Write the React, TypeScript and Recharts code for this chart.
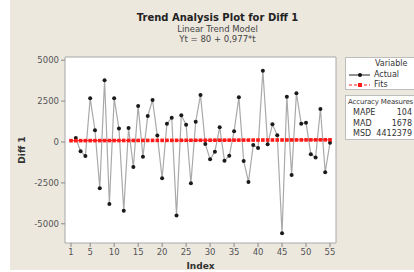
import React from 'react'
import {
  ComposedChart, Line, XAxis, YAxis, CartesianGrid, ReferenceArea, Legend
} from 'recharts'

// index 1 has no value (first difference)
const indexes = Array.from({ length: 55 }, (_, i) => i + 1)

const actual: Array<number | null> = [
  null, 240, -570, -850, 2670, 720, -2830, 3770, -3790, 2670,
  820, -4200, 850, -1530, 2200, -900, 1590, 2570, 390, -2220,
  1120, 1490, -4500, 1630, 1060, -2520, 1240, 2880, -120, -1060,
  -590, 900, -1140, -840, 650, 2730, -1160, -2440, -180, -370,
  4360, -140, 1080, 410, -5580, 2770, -2020, 2980, 1120, 1180,
  -750, -940, 2020, -1850, -40
]

const fits = [
  81, 82, 83, 84, 85, 86, 87, 88, 89, 90,
  91, 92, 93, 94, 95, 96, 97, 98, 99, 100,
  101, 101, 102, 103, 104, 105, 106, 107, 108, 109,
  110, 111, 112, 113, 114, 115, 116, 117, 118, 119,
  120, 121, 122, 123, 124, 125, 126, 127, 128, 129,
  130, 131, 132, 133, 134
]

const xTicks = [1, 5, 10, 15, 20, 25, 30, 35, 40, 45, 50, 55]
const yTicks = [-5000, -2500, 0, 2500, 5000]

const measures = [
  { name: 'MAPE', value: '104' },
  { name: 'MAD', value: '1678' },
  { name: 'MSD', value: '4412379' },
]

const data = indexes.map((idx, i) => ({ idx, actual: actual[i], fits: fits[i] }))

const FONT = '"DejaVu Sans", Verdana, sans-serif'
const X_DOMAIN: [number, number] = [-0.25, 56.25]
const Y_DOMAIN: [number, number] = [-6174, 5196]

function FitDot(props: any) {
  const { cx, cy } = props
  if (cx == null || cy == null) return null
  return <rect x={cx - 1.8} y={cy - 1.8} width={3.6} height={3.6} fill="#ff1a1a" />
}

function LegendBoxes() {
  const box: React.CSSProperties = {
    background: '#fff', border: '1px solid #bdbdbd', borderRight: 'none',
    fontFamily: FONT, fontSize: 8, color: '#333', position: 'relative'
  }
  return (
    <div style={{ width: 70 }}>
      <div style={{ ...box, height: 31 }}>
        <div style={{ position: 'absolute', left: 29, top: 1 }}>Variable</div>
        <svg width={24} height={30} style={{ position: 'absolute', left: 2, top: 0 }}>
          <line x1={1} x2={22} y1={17} y2={17} stroke="#222" strokeWidth={1} />
          <circle cx={12} cy={17} r={2} fill="#111" />
          <line x1={1} x2={22} y1={27} y2={27} stroke="#ff1a1a" strokeWidth={1} strokeDasharray="3 2" />
          <rect x={10} y={25} width={4} height={4} fill="#ff1a1a" />
        </svg>
        <div style={{ position: 'absolute', left: 28, top: 12 }}>Actual</div>
        <div style={{ position: 'absolute', left: 28, top: 22 }}>Fits</div>
      </div>
      <div style={{ ...box, height: 43, marginTop: 5 }}>
        <div style={{ position: 'absolute', left: 2, top: 2, whiteSpace: 'nowrap', fontSize: 7, letterSpacing: -0.15 }}>Accuracy Measures</div>
        {measures.map((m, i) => (
          <div key={m.name} style={{ position: 'absolute', left: 7, top: 12 + i * 10.5, width: 59 }}>
            <span>{m.name}</span>
            <span style={{ position: 'absolute', right: 0 }}>{m.value}</span>
          </div>
        ))}
      </div>
    </div>
  )
}

export default function App() {
  return (
    <div style={{ position: 'absolute', left: 0, top: 0, width: 414, height: 272, background: '#fff', overflow: 'hidden' }}>
      <div style={{ position: 'absolute', left: 10, top: 0, right: 0, bottom: 2, background: '#ece8de' }} />
      <div style={{ position: 'absolute', left: 0, top: 11, width: 435, textAlign: 'center', fontFamily: FONT, color: '#222' }}>
        <div style={{ fontSize: 10, fontWeight: 'bold', lineHeight: '13px' }}>Trend Analysis Plot for Diff 1</div>
        <div style={{ fontSize: 8.5, lineHeight: '10px', color: '#444' }}>Linear Trend Model</div>
        <div style={{ fontSize: 8.5, lineHeight: '10px', color: '#444' }}>Yt = 80 + 0,977*t</div>
      </div>
      <div style={{ position: 'absolute', left: 0, top: 0 }}>
        <ComposedChart width={414} height={272} data={data}
          margin={{ top: 57, right: 78, left: 0, bottom: 0 }}>
          <CartesianGrid fill="#fff" horizontal={false} vertical={false} />
          <ReferenceArea x1={X_DOMAIN[0]} x2={X_DOMAIN[1]} y1={Y_DOMAIN[0]} y2={Y_DOMAIN[1]}
            fill="none" stroke="#a8a8a8" strokeWidth={1} ifOverflow="visible" />
          <XAxis dataKey="idx" type="number" domain={X_DOMAIN} ticks={xTicks} allowDataOverflow
            height={29} axisLine={false} tickLine={{ stroke: '#888' }} tickSize={4} tickMargin={2}
            tick={{ fontSize: 8.5, fill: '#555', fontFamily: FONT }}
            label={{ value: 'Index', position: 'insideBottom', offset: 3, fontSize: 9, fontWeight: 'bold', fill: '#333', fontFamily: FONT }} />
          <YAxis type="number" domain={Y_DOMAIN} ticks={yTicks} allowDataOverflow
            width={65} axisLine={false} tickLine={{ stroke: '#888' }} tickSize={4} tickMargin={2}
            tick={{ fontSize: 8.5, fill: '#555', fontFamily: FONT }}
            label={{
              content: (p: any) => {
                const vb = p.viewBox || {}
                const cy = (vb.y ?? 57) + (vb.height ?? 186) / 2
                return (
                  <text x={25} y={cy} transform={`rotate(-90 25 ${cy})`} textAnchor="middle"
                    fontSize={9} fontWeight="bold" fill="#333" fontFamily={FONT}>Diff 1</text>
                )
              }
            }} />
          <Legend layout="vertical" align="center" verticalAlign="middle"
            wrapperStyle={{ left: 345, top: 57, width: 70 }} content={() => <LegendBoxes />} />
          <Line name="Actual" dataKey="actual" type="linear" stroke="#a9a9a9" strokeWidth={1.2}
            dot={{ r: 2, fill: '#1a1a1a', stroke: 'none' }} activeDot={false} connectNulls={false}
            isAnimationActive={false} />
          <Line name="Fits" dataKey="fits" type="linear" stroke="#ff1a1a" strokeWidth={1}
            strokeDasharray="3 2" dot={<FitDot />} activeDot={false} isAnimationActive={false} />
        </ComposedChart>
      </div>
    </div>
  )
}
